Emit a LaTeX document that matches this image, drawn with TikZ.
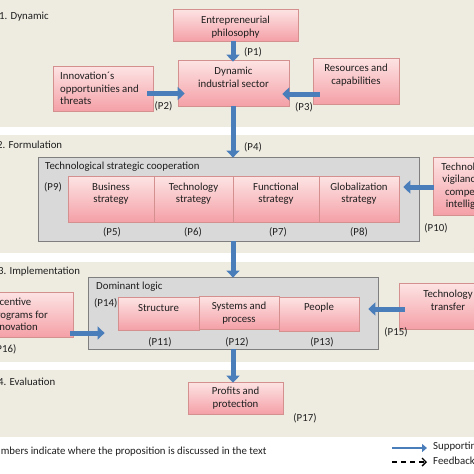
\documentclass[tikz,border=0pt]{standalone}
\usepackage{fontspec}
\setmainfont{Carlito}
\usetikzlibrary{arrows.meta,shadows,calc}
\definecolor{bandc}{HTML}{EEECE1}
\definecolor{pinktop}{HTML}{FDE4E4}
\definecolor{pinkbot}{HTML}{F4A0A7}
\definecolor{pinkbd}{HTML}{D4908F}
\definecolor{grayfill}{HTML}{D9D9D9}
\definecolor{graybd}{HTML}{7F7F7F}
\definecolor{arrblue}{HTML}{4A7EBB}
\definecolor{txtc}{HTML}{1F1F1F}
\begin{document}
\begin{tikzpicture}[x=1pt,y=-1pt,
  pinkbox/.style={draw=pinkbd, line width=0.6pt, top color=pinktop, bottom color=pinkbot, inner sep=0pt,
    drop shadow={opacity=0.25,shadow xshift=1pt,shadow yshift=-1.2pt}},
  graybox/.style={draw=graybd, fill=grayfill, line width=0.8pt, inner sep=0pt},
  band/.style={fill=bandc, draw=none},
  lbl/.style={inner sep=0pt, align=center, text=txtc, font=\fontsize{10.8}{12.5}\selectfont},
  lbll/.style={lbl, align=left, anchor=west},
  barrow/.style={draw=arrblue, line width=5pt, -{Triangle[length=7pt,width=13pt]}},
]
\useasboundingbox (0,0) rectangle (474,474);
\clip (0,0) rectangle (474,474);
\fill[white] (0,0) rectangle (474,474);
% bands
\path[band] (0,0) rectangle (474,127);
\path[band] (0,135) rectangle (474,253);
\path[band] (0,262) rectangle (474,362);
\path[band] (0,370) rectangle (474,437);
\node[lbll] (s1) at (-1,17) {1. Dynamic};
\node[lbll] (s2) at (-3,145) {2. Formulation};
\node[lbll] (s3) at (-2,272) {3. Implementation};
\node[lbll] (s4) at (-2,382) {4. Evaluation};

% band 1
\node[pinkbox, minimum width=125pt, minimum height=32pt] (ent) at (235.5,25) {};
\node[lbl] (entT) at (235.5,27) {Entrepreneurial\\philosophy};
\node[pinkbox, minimum width=111pt, minimum height=46pt] (dyn) at (233.5,83) {};
\node[lbl] (dynT) at (233.5,77.5) {Dynamic\\industrial sector};
\node[pinkbox, minimum width=100pt, minimum height=45pt] (innov) at (103,88.5) {};
\node[lbll] (innovT) at (60,88.5) {Innovation´s\\opportunities and\\threats};
\node[pinkbox, minimum width=86pt, minimum height=46pt] (res) at (356,81) {};
\node[lbl] (resT) at (356,75) {Resources and\\capabilities};
\node[lbl] (p1) at (253,52) {(P1)};
\node[lbl] (p2) at (163.5,106.5) {(P2)};
\node[lbl] (p3) at (304,107) {(P3)};
\node[lbl] (p4) at (253,147) {(P4)};

% band 2
\node[graybox, minimum width=381pt, minimum height=84pt] (tsc) at (228.5,199) {};
\node[lbll] (tscT) at (45,167) {Technological strategic cooperation};
\node[lbll] (p9) at (44,187) {(P9)};
\node[pinkbox, minimum width=86pt, minimum height=46pt] (bus) at (111,199) {};
\node[pinkbox, minimum width=79pt, minimum height=46pt] (tech) at (193.5,199) {};
\node[pinkbox, minimum width=86pt, minimum height=46pt] (func) at (276,199) {};
\node[pinkbox, minimum width=80pt, minimum height=46pt] (glob) at (359,199) {};
\node[lbl] (busT) at (111,193.5) {Business\\strategy};
\node[lbl] (techT) at (193.5,193.5) {Technology\\strategy};
\node[lbl] (funcT) at (276,193.5) {Functional\\strategy};
\node[lbl] (globT) at (359,193.5) {Globalization\\strategy};
\node[lbl] (p5) at (112,232) {(P5)};
\node[lbl] (p6) at (193,232) {(P6)};
\node[lbl] (p7) at (278,232) {(P7)};
\node[lbl] (p8) at (359,232) {(P8)};
\node[pinkbox, minimum width=76pt, minimum height=58pt] (vig) at (471,186) {};
\node[lbl] (vigT) at (471,186) {Technological\\vigilance and\\competitive\\intelligence};
\node[lbl] (p10) at (436,228) {(P10)};

% band 3
\node[graybox, minimum width=290pt, minimum height=72pt] (dom) at (233,313) {};
\node[lbll] (domT) at (96,287) {Dominant logic};
\node[lbll] (p14) at (94,303) {(P14)};
\node[pinkbox, minimum width=81pt, minimum height=33pt] (str) at (158.5,313.5) {};
\node[pinkbox, minimum width=80pt, minimum height=33pt] (sys) at (239,312.5) {};
\node[pinkbox, minimum width=80pt, minimum height=34pt] (peo) at (319,314) {};
\node[lbl] (strT) at (158.5,308) {Structure};
\node[lbl] (sysT) at (239,313) {Systems and\\process};
\node[lbl] (peoT) at (319,308) {People};
\node[lbl] (p11) at (160,342) {(P11)};
\node[lbl] (p12) at (237,342) {(P12)};
\node[lbl] (p13) at (322,342) {(P13)};
\node[pinkbox, minimum width=89pt, minimum height=45pt] (inc) at (28.5,314.5) {};
\node[lbll] (incT) at (-9,314.5) {Incentive\\programs for\\innovation};
\node[lbll] (p16) at (-7,349) {(P16)};
\node[pinkbox, minimum width=98pt, minimum height=46pt] (tt) at (448,306) {};
\node[lbl] (ttT) at (448,300.5) {Technology\\transfer};
\node[lbl] (p15) at (396,332) {(P15)};

% band 4
\node[pinkbox, minimum width=95pt, minimum height=32pt] (prof) at (235.5,398) {};
\node[lbl] (profT) at (235.5,398) {Profits and\\protection};
\node[lbl] (p17) at (305,418) {(P17)};

% footnote
\node[lbll] (foot) at (-12,452) {Numbers indicate where the proposition is discussed in the text};

% arrows
\draw[barrow] ($(ent.south)+(-2.5,0)$) -- ($(dyn.north)+(-0.5,2)$);
\draw[barrow] ($(innov.east)+(-6,5)$) -- ($(dyn.west)+(7,10.5)$);
\draw[barrow] ($(res.west)+(7,13)$) -- ($(dyn.east)+(-7,11)$);
\draw[barrow] ($(dyn.south)+(-0.5,0)$) -- ($(tsc.north)+(4.5,1)$);
\draw[barrow] ($(vig.west)+(1,1)$) -- ($(glob.east)+(4,-12)$);
\draw[barrow] ($(tsc.south)+(4.5,0)$) -- ($(dom.north)+(0,1)$);
\draw[barrow] ($(inc.east)+(-3,18.5)$) -- ($(dom.west)+(17,20)$);
\draw[barrow] ($(tt.west)+(6,3)$) -- ($(peo.east)+(9,-5)$);
\draw[barrow] (dom.south) -- ($(prof.north)+(-2.5,1)$);

% legend
\coordinate (l1a) at (392,448);
\coordinate (l1b) at (427,448);
\coordinate (l2a) at (392,462);
\coordinate (l2b) at (427,462);
\draw[draw=arrblue, line width=2.5pt, -{Triangle[length=5pt,width=8pt]}] (l1a) -- (l1b);
\draw[black, line width=1.6pt, dash pattern=on 5pt off 4pt, -{Straight Barb[length=4pt,width=8pt,line width=1.4pt]}] (l2a) -- (l2b);
\node[lbll] (legS) at (433,447) {Supporting};
\node[lbll] (legF) at (433,461) {Feedback};
\end{tikzpicture}
\end{document}
